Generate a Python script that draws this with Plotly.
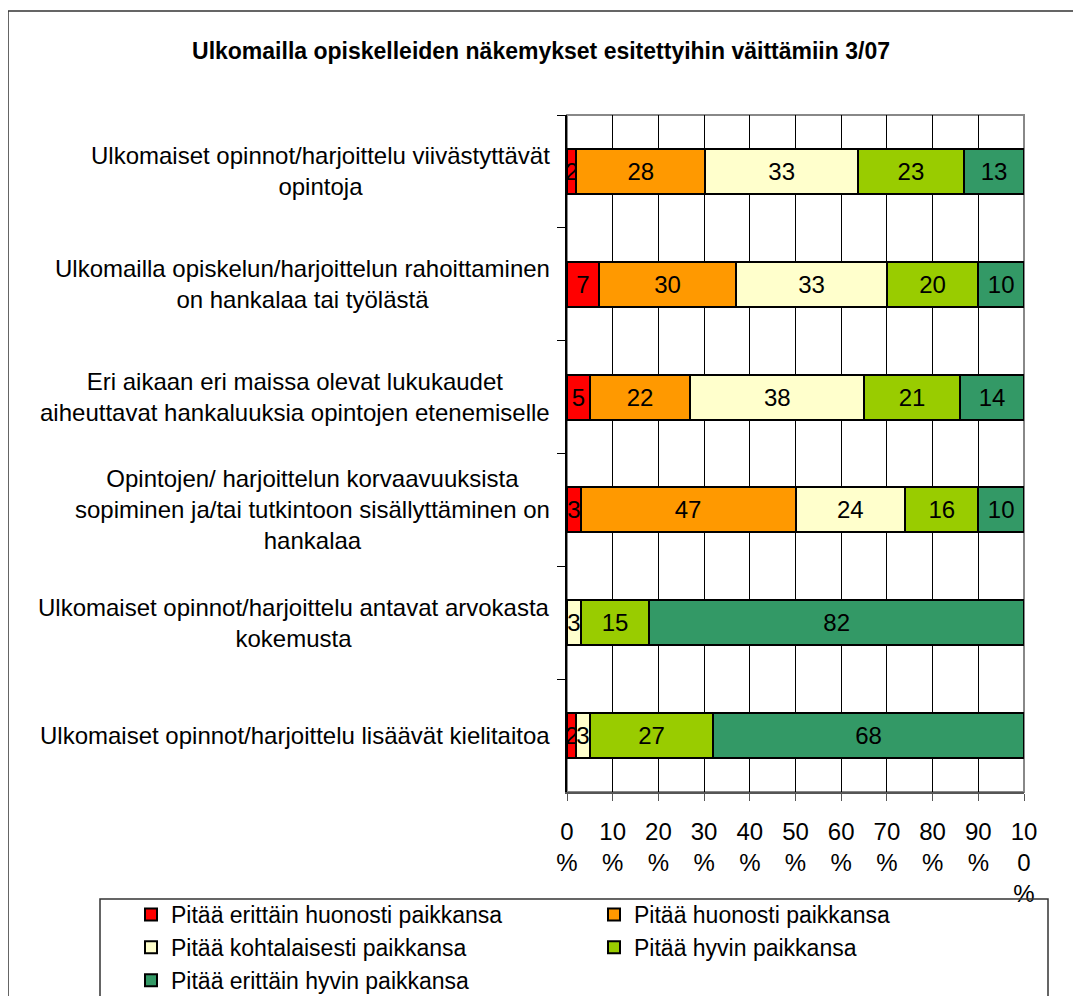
"""Ulkomailla opiskelleiden näkemykset - 100% stacked bar chart."""
import plotly.graph_objects as go

statements = [
    "Ulkomaiset opinnot/harjoittelu viivästyttävät<br>opintoja",
    "Ulkomailla opiskelun/harjoittelun rahoittaminen<br>on hankalaa tai työlästä",
    "Eri aikaan eri maissa olevat lukukaudet<br>aiheuttavat hankaluuksia opintojen etenemiselle",
    "Opintojen/ harjoittelun korvaavuuksista<br>sopiminen ja/tai tutkintoon sisällyttäminen on<br>hankalaa",
    "Ulkomaiset opinnot/harjoittelu antavat arvokasta<br>kokemusta",
    "Ulkomaiset opinnot/harjoittelu lisäävät kielitaitoa",
]
series_names = [
    "Pitää erittäin huonosti paikkansa",
    "Pitää huonosti paikkansa",
    "Pitää kohtalaisesti paikkansa",
    "Pitää hyvin paikkansa",
    "Pitää erittäin hyvin paikkansa",
]
erittain_huonosti = [2, 7, 5, 3, 0, 2]
huonosti = [28, 30, 22, 47, 0, 0]
kohtalaisesti = [33, 33, 38, 24, 3, 3]
hyvin = [23, 20, 21, 16, 15, 27]
erittain_hyvin = [13, 10, 14, 10, 82, 68]
colors = ["#FF0000", "#FF9900", "#FFFFCC", "#99CC00", "#339966"]

tick_vals = [0, 10, 20, 30, 40, 50, 60, 70, 80, 90, 100]
tick_text = ["0<br>%", "10<br>%", "20<br>%", "30<br>%", "40<br>%", "50<br>%",
             "60<br>%", "70<br>%", "80<br>%", "90<br>%", "10<br>0<br>%"]

FONT = "Liberation Sans, Arial, sans-serif"
OFF = 8  # page body margin
W, H = 1081 - OFF, 996 - OFF
ML, MT, MR = 100 - OFF, 115 - OFF, 8
MB = H - (792 - OFF)
pw = W - ML - MR
ph = H - MT - MB


# helpers: page pixel -> paper fractions
def px_x(p):
    return (p - OFF - ML) / pw


def px_y(p):
    return (H - MB - (p - OFF)) / ph


fig = go.Figure()
for name, vals, col in zip(series_names,
                           [erittain_huonosti, huonosti, kohtalaisesti, hyvin, erittain_hyvin],
                           colors):
    fig.add_trace(go.Bar(
        y=statements, x=vals, name=name, orientation="h",
        marker=dict(color=col, line=dict(color="black", width=2)),
        text=[str(v) if v else "" for v in vals],
        textposition="inside", insidetextanchor="middle", constraintext="none",
        textfont=dict(family=FONT, size=24, color="black"),
        hoverinfo="skip",
    ))

for s in statements:
    fig.add_annotation(
        x=px_x(552), xref="paper", y=s, yref="y", text=s, showarrow=False,
        xanchor="right", align="center", font=dict(family=FONT, size=24, color="black"),
    )

# plot area frame, outer chart border, legend box
fig.add_shape(type="rect", xref="x domain", yref="y domain", x0=0, x1=1, y0=0, y1=1,
              line=dict(color="#888888", width=2), layer="below")
fig.add_shape(type="rect", xref="paper", yref="paper",
              x0=px_x(8), x1=px_x(1100), y0=px_y(1020), y1=px_y(11),
              line=dict(color="#333333", width=1.5))
fig.add_shape(type="rect", xref="paper", yref="paper",
              x0=px_x(100), x1=px_x(1048), y0=px_y(1020), y1=px_y(899),
              line=dict(color="#333333", width=1.5))

fig.update_layout(
    barmode="stack", barnorm="percent", bargap=0.6,
    width=W, height=H, margin=dict(l=ML, r=MR, t=MT, b=MB, autoexpand=False),
    paper_bgcolor="white", plot_bgcolor="white",
    font=dict(family=FONT, size=24, color="black"),
    title=dict(text="<b>Ulkomailla opiskelleiden näkemykset esitettyihin väittämiin 3/07</b>",
               x=(541 - OFF) / W, xref="container", xanchor="center",
               y=1 - (51 - OFF) / H, yref="container", yanchor="middle",
               font=dict(family=FONT, size=23, color="black")),
    xaxis=dict(domain=[px_x(567), px_x(1024)], range=[0, 100],
               tickvals=tick_vals, ticktext=tick_text,
               showgrid=True, gridcolor="black", gridwidth=1,
               showline=True, linecolor="#555555", linewidth=2,
               ticks="outside", ticklen=7, tickcolor="#555555",
               ticklabelstandoff=10, tickfont=dict(family=FONT, size=24),
               zeroline=False, fixedrange=True, automargin=False),
    yaxis=dict(categoryorder="array", categoryarray=statements, autorange="reversed",
               showticklabels=False, showline=True, linecolor="black", linewidth=1.5,
               ticks="outside", tickson="boundaries", ticklen=8, tickcolor="black",
               showgrid=False, fixedrange=True, automargin=False),
    legend=dict(orientation="h", x=px_x(131), xanchor="left", y=px_y(893), yanchor="top",
                traceorder="normal", entrywidth=418, entrywidthmode="pixels",
                font=dict(family=FONT, size=23), itemsizing="constant",
                tracegroupgap=0, bgcolor="rgba(0,0,0,0)"),
    showlegend=True,
)

fig.write_html("out.html")
